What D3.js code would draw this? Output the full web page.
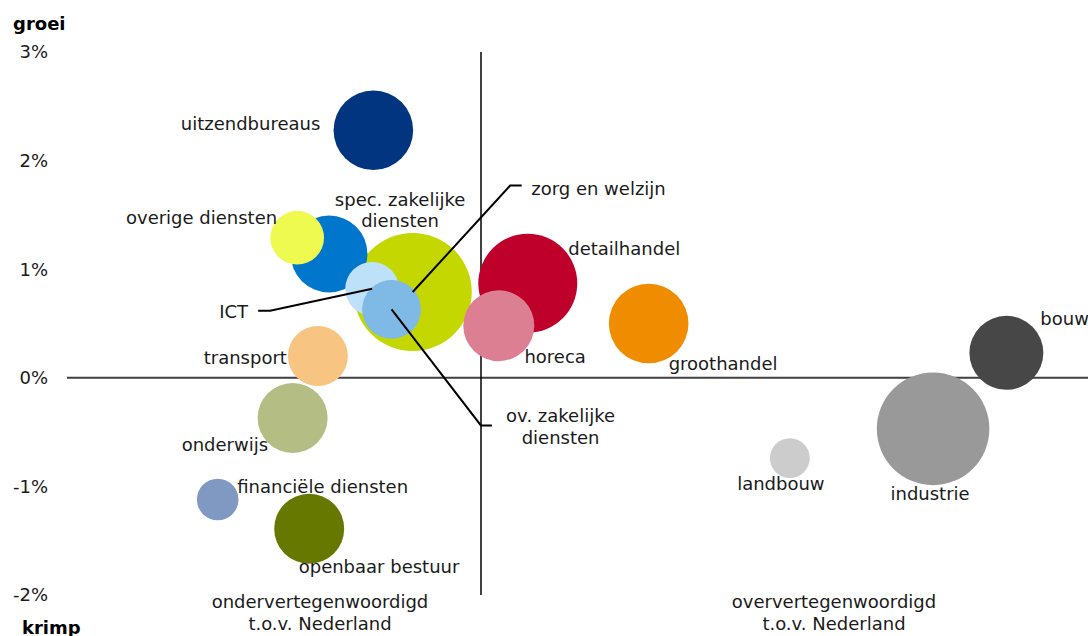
<!DOCTYPE html>
<html><head><meta charset="utf-8">
<script src="https://cdn.jsdelivr.net/npm/d3@7"></script>
<style>
html,body{margin:0;padding:0;background:#fff;}
svg{display:block;font-family:"DejaVu Sans",Verdana,sans-serif;}
</style></head>
<body>
<svg id="chart" width="1088" height="636"></svg>
<script>
// Sectors: representation index (x, 1 = NL average), growth in % (y), size (employment)
const sectors = ["zorg en welzijn","spec. zakelijke diensten","overige diensten","ICT","ov. zakelijke diensten",
  "uitzendbureaus","detailhandel","horeca","groothandel","bouw","industrie","landbouw","transport",
  "onderwijs","financiële diensten","openbaar bestuur"];
const representation = [0.835,0.633,0.556,0.737,0.784,0.740,1.113,1.043,1.405,2.269,2.092,1.746,0.606,0.545,0.364,0.585];
const growth = [0.79,1.14,1.29,0.82,0.63,2.28,0.87,0.48,0.50,0.23,-0.47,-0.74,0.20,-0.37,-1.12,-1.39];
const size = [97,41,20,20,24,44,68,35,44,38,88,11,25,34,12,34];
const colors = ["#c5d700","#0077cc","#eefa50","#bce1f9","#7fb9e6","#02357f","#be002b","#dd7f92","#f08c00",
  "#474747","#999999","#cccccc","#f8c482","#b3bd84","#7f99c2","#677800"];
const yTicks = [-2,-1,0,1,2,3];
const yTickLabels = ["-2%","-1%","0%","1%","2%","3%"];

// label layout (offsets from bubble centre), leader lines where needed
const labelLayout = [
  {lines:["zorg en welzijn"], anchor:"start", dx:118.5, dy:-97.5, leader:[[0,0],[97.5,-106.5],[109,-106.5]]},
  {lines:["spec. zakelijke","diensten"], anchor:"middle", dx:71, dy:-48},
  {lines:["overige diensten"], anchor:"end", dx:-20, dy:-14},
  {lines:["ICT"], anchor:"end", dx:-124, dy:29, leader:[[0,0],[-102,22],[-114,22]]},
  {lines:["ov. zakelijke","diensten"], anchor:"middle", dx:169, dy:113, leader:[[0,0],[89.3,116],[100.3,116]]},
  {lines:["uitzendbureaus"], anchor:"end", dx:-53, dy:0},
  {lines:["detailhandel"], anchor:"start", dx:40.5, dy:-28},
  {lines:["horeca"], anchor:"start", dx:25.6, dy:37},
  {lines:["groothandel"], anchor:"start", dx:20, dy:46},
  {lines:["bouw"], anchor:"start", dx:34, dy:-28},
  {lines:["industrie"], anchor:"middle", dx:-3, dy:71},
  {lines:["landbouw"], anchor:"middle", dx:-9, dy:32},
  {lines:["transport"], anchor:"end", dx:-31, dy:8},
  {lines:["onderwijs"], anchor:"end", dx:-24.5, dy:33.5},
  {lines:["financiële diensten"], anchor:"start", dx:19.6, dy:-6.5},
  {lines:["openbaar bestuur"], anchor:"start", dx:-10.5, dy:44}
];

const svg = d3.select("#chart");
const x = d3.scaleLinear().domain([0, 2.5]).range([67, 1102]);
const y = d3.scaleLinear().domain([-2, 3]).range([595, 52]);
const r = d3.scaleSqrt().domain([0, 100]).range([0, 60]);
const fs = 18;

// y tick labels
svg.append("g").selectAll("text").data(yTicks).join("text")
  .attr("x", 48).attr("y", d => y(d)).attr("dy", "0.35em")
  .attr("text-anchor", "end").attr("font-size", fs).attr("fill", "#1a1a1a")
  .text((d,i) => yTickLabels[i]);

svg.append("text").attr("x", 13).attr("y", 30).attr("font-size", fs).attr("font-weight", "bold").text("groei");
svg.append("text").attr("x", 22).attr("y", 634).attr("font-size", fs).attr("font-weight", "bold").text("krimp");

// axes lines
svg.append("line").attr("x1", x(0)).attr("x2", x(2.5)).attr("y1", y(0)).attr("y2", y(0))
  .attr("stroke", "#404040").attr("stroke-width", 2);
svg.append("line").attr("x1", x(1)).attr("x2", x(1)).attr("y1", y(3)).attr("y2", y(-2))
  .attr("stroke", "#000").attr("stroke-width", 1.5);

// bubbles
const idx = d3.range(sectors.length);
svg.append("g").selectAll("circle").data(idx).join("circle")
  .attr("cx", i => x(representation[i])).attr("cy", i => y(growth[i]))
  .attr("r", i => r(size[i])).attr("fill", i => colors[i]);

// leader lines
const line = d3.line();
idx.forEach(i => {
  const L = labelLayout[i];
  if (!L.leader) return;
  const cx = x(representation[i]), cy = y(growth[i]);
  svg.append("path").attr("d", line(L.leader.map(p => [cx + p[0], cy + p[1]])))
    .attr("fill", "none").attr("stroke", "#000").attr("stroke-width", 2);
});

// labels
idx.forEach(i => {
  const L = labelLayout[i];
  const cx = x(representation[i]), cy = y(growth[i]);
  const t = svg.append("text").attr("font-size", fs).attr("fill", "#1a1a1a").attr("text-anchor", L.anchor);
  L.lines.forEach((s, k) => {
    t.append("tspan").attr("x", cx + L.dx).attr("y", cy + L.dy + k * 21.5).text(s);
  });
});

// bottom captions
const captions = [{x:320, lines:["ondervertegenwoordigd","t.o.v. Nederland"]},
                  {x:834, lines:["oververtegenwoordigd","t.o.v. Nederland"]}];
captions.forEach(c => {
  const t = svg.append("text").attr("font-size", fs).attr("fill", "#1a1a1a").attr("text-anchor", "middle");
  c.lines.forEach((s, k) => t.append("tspan").attr("x", c.x).attr("y", 607.5 + k * 22).text(s));
});
</script>
</body></html>
